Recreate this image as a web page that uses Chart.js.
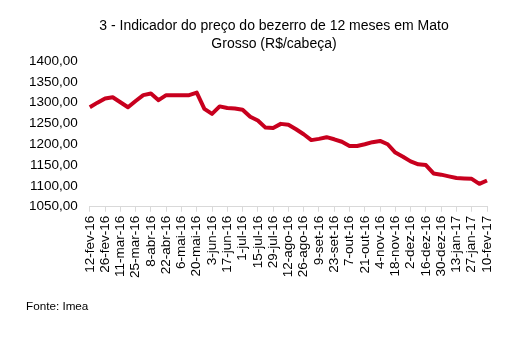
<!DOCTYPE html>
<html>
<head>
<meta charset="utf-8">
<script src="https://cdn.jsdelivr.net/npm/chart.js@4"></script>
<style>
  body { margin: 0; background: #fff; }
  #wrap { position: relative; width: 519px; height: 345px; font-family: "Liberation Sans", Arial, sans-serif; color: #000; }
  #title { position: absolute; left: 74px; width: 400px; top: 16px; text-align: center; font-size: 14px; line-height: 18px; }
  #note { position: absolute; left: 26px; top: 299px; font-size: 11.7px; }
  canvas { position: absolute; left: 0; top: 0; }
</style>
</head>
<body>
<div id="wrap">
  <canvas id="myChart" width="519" height="345"></canvas>
  <div id="title"></div>
  <div id="note">Fonte: Imea</div>
</div>
<script>
const weeks = [
  '12-fev-16', '19-fev-16', '26-fev-16', '4-mar-16', '11-mar-16', '18-mar-16', '25-mar-16',
  '1-abr-16', '8-abr-16', '15-abr-16', '22-abr-16', '29-abr-16', '6-mai-16', '13-mai-16',
  '20-mai-16', '27-mai-16', '3-jun-16', '10-jun-16', '17-jun-16', '24-jun-16', '1-jul-16',
  '8-jul-16', '15-jul-16', '22-jul-16', '29-jul-16', '5-ago-16', '12-ago-16', '19-ago-16',
  '26-ago-16', '2-set-16', '9-set-16', '16-set-16', '23-set-16', '30-set-16', '7-out-16',
  '14-out-16', '21-out-16', '28-out-16', '4-nov-16', '11-nov-16', '18-nov-16', '25-nov-16',
  '2-dez-16', '9-dez-16', '16-dez-16', '23-dez-16', '30-dez-16', '6-jan-17', '13-jan-17',
  '20-jan-17', '27-jan-17', '3-fev-17', '10-fev-17'
];

const prices = [
  1289, 1300, 1310, 1313, 1301, 1289, 1304, 1318, 1322, 1306,
  1318, 1318, 1318, 1318, 1324, 1285, 1273, 1291, 1287, 1286,
  1283, 1266, 1257, 1240, 1239, 1249, 1247, 1236, 1224, 1210,
  1213, 1217, 1212, 1206, 1196, 1196, 1200, 1205, 1208, 1200,
  1180, 1170, 1159, 1152, 1150, 1130, 1127, 1123, 1119, 1118,
  1117, 1105, 1113
];

const titleLines = ['3 - Indicador do preço do bezerro de 12 meses em Mato', 'Grosso (R$/cabeça)'];

document.getElementById('title').innerHTML = titleLines.join('<br>');

const font = '"Liberation Sans", Arial, Helvetica, sans-serif';

new Chart(document.getElementById('myChart'), {
  type: 'line',
  data: {
    labels: weeks,
    datasets: [{
      data: prices,
      borderColor: '#c8001e',
      borderWidth: 4,
      pointRadius: 0,
      tension: 0,
      borderJoinStyle: 'round',
      fill: false
    }]
  },
  options: {
    responsive: false,
    animation: false,
    layout: { padding: { left: 17, right: 32, top: 61, bottom: 63 } },
    plugins: {
      legend: { display: false },
      tooltip: { enabled: false },
      title: { display: false }
    },
    scales: {
      x: {
        grid: {
          drawOnChartArea: false,
          drawTicks: true,
          tickLength: 5,
          color: '#d9d9d9',
          offset: false
        },
        border: { display: true, color: '#d9d9d9' },
        offset: false,
        ticks: {
          autoSkip: false,
          maxRotation: 90,
          minRotation: 90,
          padding: 4,
          color: '#000',
          font: { family: font, size: 13.5 },
          callback: function (v, i) { return i % 2 === 0 ? weeks[i] : null; }
        }
      },
      y: {
        min: 1050,
        max: 1400,
        grid: { display: false, drawTicks: false },
        border: { display: false },
        ticks: {
          stepSize: 50,
          padding: 12,
          color: '#000',
          font: { family: font, size: 13.5 },
          callback: function (v) { return v.toFixed(2).replace('.', ','); }
        }
      }
    }
  }
});
</script>
</body>
</html>
